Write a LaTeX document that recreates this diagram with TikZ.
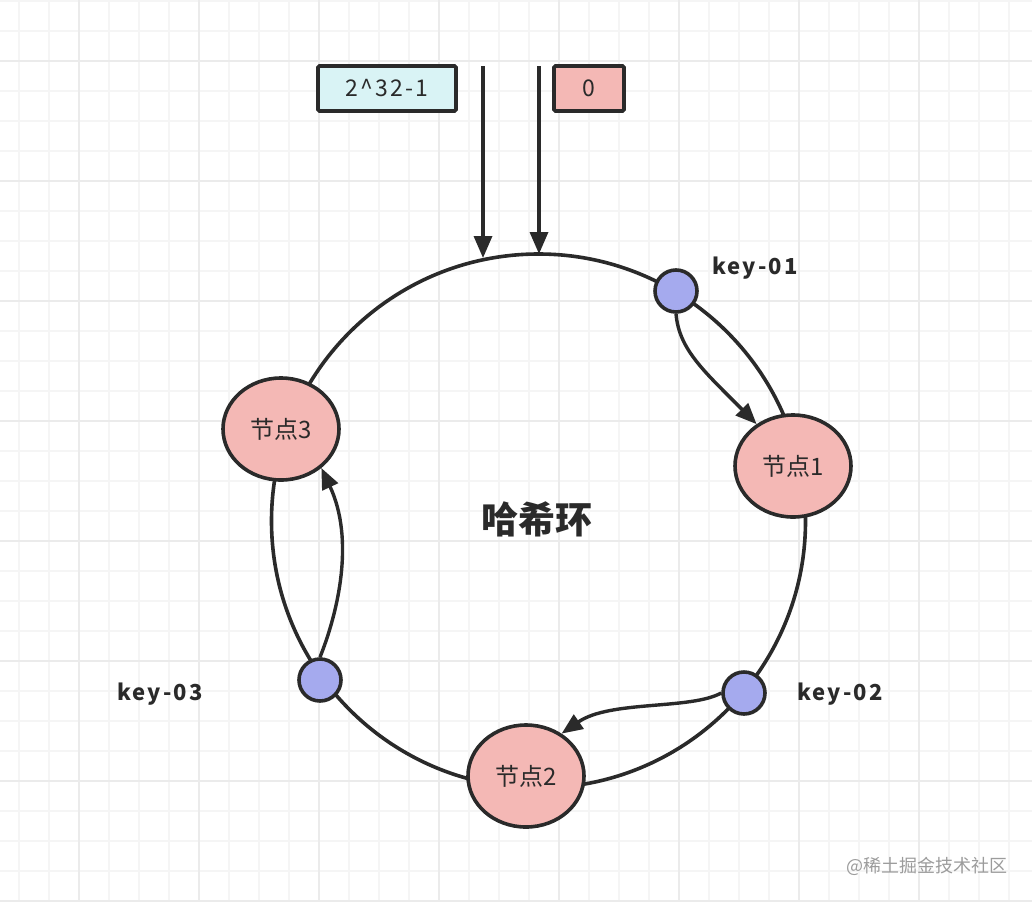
\documentclass[tikz,border=0pt]{standalone}
\usepackage{fontspec}
\setmainfont{Noto Sans CJK SC}
\newfontfamily\spacedfont[LetterSpace=10]{Noto Sans CJK SC}
\usetikzlibrary{arrows.meta,shapes.geometric}
\definecolor{ink}{HTML}{2A2A2A}
\definecolor{nodepink}{HTML}{F4B8B5}
\definecolor{keyblue}{HTML}{A5AAEE}
\definecolor{boxcyan}{HTML}{D9F3F5}
\definecolor{gridminor}{HTML}{F5F5F5}
\definecolor{gridmajor}{HTML}{EBEBEB}
\definecolor{wmark}{HTML}{9C9C9C}
\begin{document}
\begin{tikzpicture}[x=1pt,y=-1pt,
  ringline/.style={draw=ink,line width=3.6pt},
  hashnode/.style={ellipse,draw=ink,line width=3.6pt,fill=nodepink,minimum width=116pt,minimum height=102pt,inner sep=0pt,text=ink,font=\fontsize{24}{27}\selectfont},
  keynode/.style={circle,draw=ink,line width=3.6pt,fill=keyblue,minimum size=42pt,inner sep=0pt},
  keylabel/.style={text=ink,font=\spacedfont\bfseries\fontsize{22}{26}\selectfont},
  titlelabel/.style={text=ink,font=\bfseries\fontsize{37}{40}\selectfont},
  valbox/.style={rectangle,draw=ink,line width=3.6pt,rounded corners=1.5pt,minimum height=45pt,inner sep=0pt,text=ink,font=\spacedfont\fontsize{23}{26}\selectfont},
  arrowline/.style={draw=ink,line width=3.4pt,-{Triangle[length=22pt,width=18pt]}},
  curvearrow/.style={draw=ink,line width=3.4pt,-{Triangle[length=21pt,width=17pt]}}
]
\useasboundingbox (0,0) rectangle (1032,902);
\fill[white] (0,0) rectangle (1032,902);
% grid
\foreach \x in {19,49,...,1031} \draw[gridminor,line width=1.3pt] (\x,0) -- (\x,902);
\foreach \y in {1,31,...,901} \draw[gridminor,line width=1.3pt] (0,\y) -- (1032,\y);
\foreach \x in {79,199,...,1031} \draw[gridmajor,line width=1.8pt] (\x,0) -- (\x,902);
\foreach \y in {61,181,...,901} \draw[gridmajor,line width=1.8pt] (0,\y) -- (1032,\y);

% ring
\coordinate (rc) at (538.5,521);
\draw[ringline] (rc) circle [radius=267pt];

\node[titlelabel] (lbl) at (537,519) {哈希环};

% nodes
\node[hashnode] (n3) at (281,429) {节点3};
\node[hashnode] (n1) at (793,466) {节点1};
\node[hashnode] (n2) at (526,776) {节点2};
\node[keynode] (k1) at (676,291) {};
\node[keynode] (k2) at (744,693) {};
\node[keynode] (k3) at (320,680) {};

\node[keylabel] (k1l) at (755,268) {key-01};
\node[keylabel] (k2l) at (840,694) {key-02};
\node[keylabel] (k3l) at (160,694) {key-03};

% top boxes
\node[valbox,fill=boxcyan,minimum width=138pt] (b1) at (387,88.5) {2\^{}32-1};
\node[valbox,fill=nodepink,minimum width=70pt] (b0) at (589,88.5) {0};

\coordinate (s1) at (483,66);
\coordinate (e1) at (483,258);
\coordinate (s0) at (539,66);
\coordinate (e0) at (539,254);
\draw[arrowline] (s1) -- (e1);
\draw[arrowline] (s0) -- (e0);

% curved arrows
\draw[curvearrow] (k1.south) .. controls (679,350) and (705,372) .. (n1.131);
\draw[curvearrow] (k2.west) .. controls (690,710) and (610,700) .. (n2.50);
\draw[curvearrow] (k3.north) .. controls (338,612) and (355,540) .. (n3.-44);

% watermark
\node[text=wmark,font=\fontsize{18}{20}\selectfont] (wm) at (927,866) {@稀土掘金技术社区};
\end{tikzpicture}
\end{document}
